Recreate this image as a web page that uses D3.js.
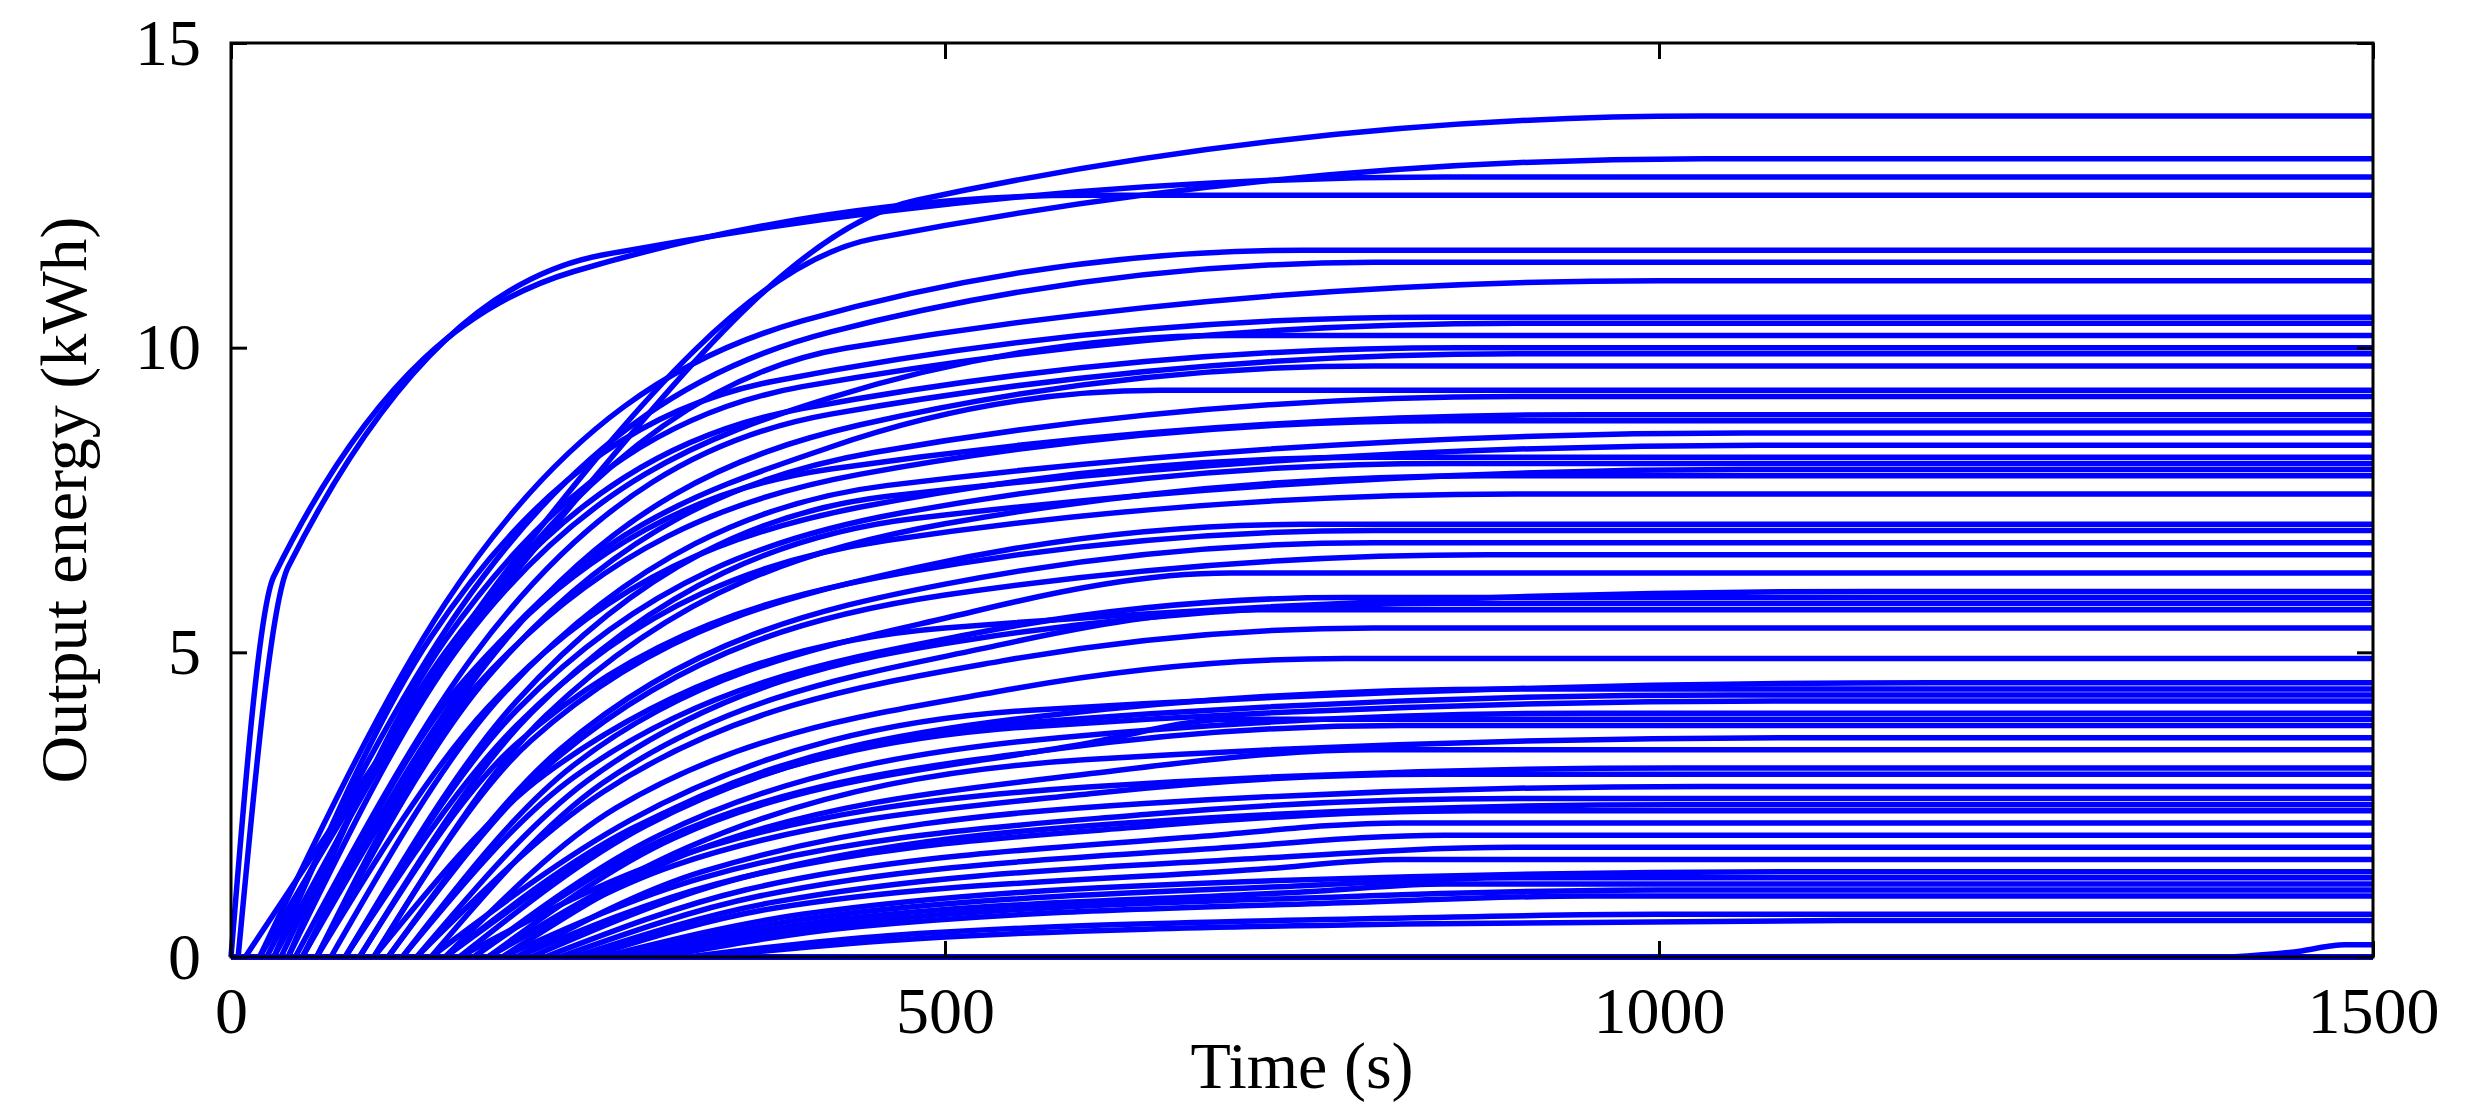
<!DOCTYPE html><html><head><meta charset="utf-8">
<script src="https://cdn.jsdelivr.net/npm/d3@7"></script>
<style>body{margin:0;background:#fff}</style></head><body>
<svg id="c" width="2471" height="1115"></svg>
<script>
// Each row: final energy (kWh), start time, time to 50%, time to 90%, time plateau reached (s)
const finals = [13.8,13.1,12.8,12.5,11.6,11.4,11.1,10.5,10.4,10.2,10.0,9.9,9.7,9.3,9.2,8.9,8.8,8.6,8.4,8.2,8.1,8.0,7.9,7.6,7.1,7.0,6.8,6.6,6.3,6.0,5.9,5.8,5.7,5.4,4.9,4.5,4.4,4.3,4.2,4.0,3.9,3.8,3.6,3.4,3.1,3.0,2.8,2.6,2.5,2.4,2.2,2.0,1.8,1.6,1.4,1.3,1.2,1.1,1.0,0.7,0.6,0.2];
const starts = [10,20,5,0,20,25,30,30,40,40,35,45,50,50,60,50,60,70,80,60,80,90,100,80,100,90,110,110,120,100,120,130,140,130,150,140,150,160,150,170,180,170,180,190,160,180,200,190,210,200,220,230,240,250,260,270,280,290,300,320,330,1400];
const t50 = [220,200,40,30,150,160,170,140,150,160,150,170,180,170,180,160,170,190,200,180,200,210,220,200,210,200,230,230,240,220,240,250,260,260,270,280,290,290,280,300,310,300,320,320,300,310,330,330,350,340,360,370,380,380,400,410,420,430,440,460,480,1450];
const t90 = [480,450,260,240,400,420,430,380,400,420,400,420,440,420,450,420,440,460,460,440,470,480,500,460,480,470,500,500,520,500,520,520,540,540,550,560,570,570,560,580,600,580,600,620,600,610,640,640,660,650,680,700,720,720,740,750,760,780,790,800,820,1470];
const tEnd = [1030,1030,850,600,750,800,1000,840,900,700,860,900,800,650,900,950,850,1060,1070,800,850,1060,880,900,750,800,800,880,700,1150,780,850,720,800,780,1190,900,1050,1080,950,700,820,1100,800,1010,840,1030,900,1010,870,820,850,900,820,1100,900,850,1000,950,1000,1130,1480];
const xTicks=[0,500,1000,1500], yTicks=[0,5,10,15];

const svg=d3.select("#c");
const L=231,R=2373,T=43,B=957;
const x=d3.scaleLinear().domain([0,1500]).range([L,R]);
const y=d3.scaleLinear().domain([0,15]).range([B,T]);
const line=d3.line().x(d=>x(d[0])).y(d=>y(d[1])).curve(d3.curveMonotoneX);
const g=svg.append("g");
g.append("path").attr("d",line([[0,0],[1500,0]])).attr("stroke","#0000ff").attr("stroke-width",6).attr("fill","none");
finals.forEach((v,i)=>{
  const pts=[[starts[i],0],[t50[i],v*0.5],[t90[i],v*0.9],[tEnd[i],v],[1500,v]];
  g.append("path").attr("d",line(pts)).attr("stroke","#0000ff").attr("stroke-width",5.5).attr("fill","none");
});
const font="'Liberation Serif','Times New Roman',serif";
svg.append("rect").attr("x",L).attr("y",T).attr("width",R-L).attr("height",B-T).attr("fill","none").attr("stroke","#000").attr("stroke-width",3);
const bx=d3.axisBottom(x).tickValues(xTicks).tickSize(-16).tickPadding(30).tickFormat(d3.format("d"));
const ax=svg.append("g").attr("transform",`translate(0,${B})`).call(bx);
const tx=svg.append("g").attr("transform",`translate(0,${T})`).call(d3.axisTop(x).tickValues(xTicks).tickSize(-16).tickFormat(""));
const ly=d3.axisLeft(y).tickValues(yTicks).tickSize(-16).tickPadding(30).tickFormat(d3.format("d"));
const ay=svg.append("g").attr("transform",`translate(${L},0)`).call(ly);
const ry=svg.append("g").attr("transform",`translate(${R},0)`).call(d3.axisRight(y).tickValues(yTicks).tickSize(-16).tickFormat(""));
[ax,tx,ay,ry].forEach(a=>{a.select(".domain").remove();a.selectAll("line").attr("stroke","#000").attr("stroke-width",3);
 a.selectAll("text").attr("font-family",font).attr("font-size",66).attr("fill","#000");});
ax.selectAll("text").attr("dy","0.7em");
svg.append("text").attr("x",x(750)).attr("y",1088).attr("text-anchor","middle").attr("font-family",font).attr("font-size",66).text("Time (s)");
svg.append("text").attr("transform",`translate(86,${(T+B)/2}) rotate(-90)`).attr("text-anchor","middle").attr("font-family",font).attr("font-size",66).text("Output energy (kWh)");
</script></body></html>
